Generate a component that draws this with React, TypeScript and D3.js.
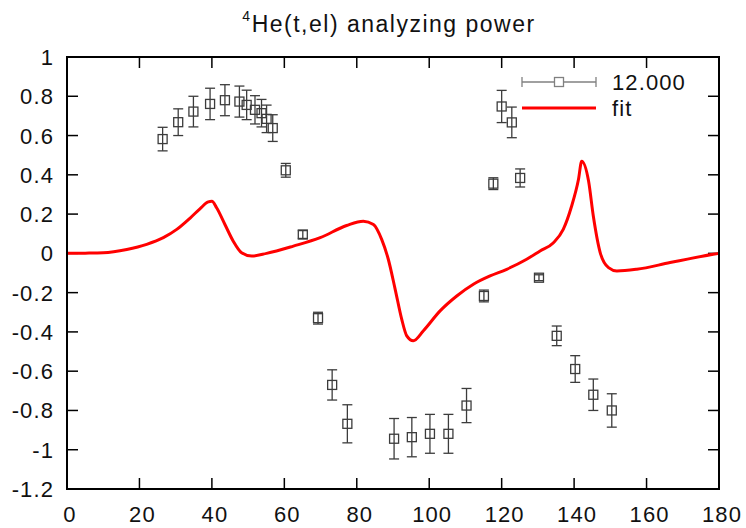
import React from 'react';
import * as d3 from 'd3';

// Measured analyzing power (angle in degrees, value, symmetric error)
const dataAngle = [26.4, 30.7, 34.9, 39.5, 43.6, 47.6, 49.6, 51.9, 53.7, 55.1, 56.8, 60.4, 65.1, 69.3, 73.2, 77.4, 90.3, 95.2, 100.2, 105.3, 110.3, 115.1, 117.7, 120.0, 122.8, 125.1, 130.3, 135.2, 140.3, 145.3, 150.4];
const dataValue = [0.582, 0.668, 0.722, 0.761, 0.78, 0.773, 0.756, 0.731, 0.714, 0.685, 0.638, 0.423, 0.096, -0.33, -0.67, -0.868, -0.944, -0.936, -0.919, -0.919, -0.775, -0.217, 0.355, 0.748, 0.667, 0.384, -0.124, -0.42, -0.589, -0.72, -0.8];
const dataError = [0.06, 0.068, 0.078, 0.08, 0.079, 0.079, 0.075, 0.072, 0.07, 0.07, 0.068, 0.035, 0.02, 0.03, 0.077, 0.097, 0.103, 0.1, 0.099, 0.099, 0.087, 0.03, 0.03, 0.082, 0.078, 0.046, 0.015, 0.05, 0.068, 0.08, 0.085];

// Fitted curve samples
const fitAngle = [0, 5, 10, 16.5, 22, 26.6, 30.3, 34, 36.7, 39, 40, 41.3, 43.6, 45.9, 48.2, 51, 55.1, 62.5, 69.9, 77.2, 81.8, 84.6, 86.9, 88.7, 90.6, 92.4, 93.8, 95.6, 98.4, 103, 107.6, 112.2, 116.8, 121.4, 126.9, 130.6, 134.3, 137, 139.3, 141.2, 142.1, 144, 145.3, 147.2, 149.5, 151.8, 157.3, 166.5, 178.4, 180];
const fitValue = [0, 0.001, 0.003, 0.02, 0.046, 0.08, 0.122, 0.18, 0.227, 0.262, 0.265, 0.232, 0.147, 0.062, 0.003, -0.014, 0.0, 0.037, 0.08, 0.142, 0.164, 0.147, 0.07, -0.03, -0.183, -0.335, -0.42, -0.445, -0.394, -0.293, -0.217, -0.157, -0.115, -0.081, -0.03, 0.012, 0.054, 0.122, 0.24, 0.376, 0.469, 0.367, 0.19, 0.004, -0.073, -0.09, -0.081, -0.047, -0.005, 0];

const xTicks = [0, 20, 40, 60, 80, 100, 120, 140, 160, 180];
const yTicks = [1, 0.8, 0.6, 0.4, 0.2, 0, -0.2, -0.4, -0.6, -0.8, -1, -1.2];

const seriesLabel = '12.000';
const fitLabel = 'fit';

const W = 746;
const H = 528;
const left = 67;
const right = 719;
const top = 57;
const bottom = 489;
const tickLen = 11;
const font = "'Liberation Sans', Arial, Helvetica, sans-serif";
const fs = 22;
const ls = 1.1;
const pointColor = '#3c3c3c';

export default function App() {
  const x = d3.scaleLinear().domain([0, 180]).range([left, right]);
  const y = d3.scaleLinear().domain([-1.2, 1]).range([bottom, top]);

  const fitLine = d3
    .line<number>()
    .x((_, i) => x(fitAngle[i]))
    .y((v) => y(v))
    .curve(d3.curveMonotoneX);

  const box = 4.5;
  const cap = 5;

  const fmt = (v: number) => String(Math.round(v * 10) / 10);

  return (
    <svg
      width={W}
      height={H}
      style={{ position: 'absolute', left: 0, top: 0, background: '#fff' }}
      fontFamily={font}
    >
      <rect x={0} y={0} width={W} height={H} fill="#fff" />

      {/* title */}
      <text x={(left + right) / 2 - 4} y={32} textAnchor="middle" fontSize={23} letterSpacing={1.5} fill="#111">
        <tspan fontSize={14} dy={-11}>4</tspan>
        <tspan dy={11}>He(t,el) analyzing power</tspan>
      </text>

      {/* ticks on all four sides */}
      <g stroke="#000" strokeWidth={1.5}>
        {xTicks.map((t) => (
          <g key={'xt' + t}>
            <line x1={x(t)} x2={x(t)} y1={bottom} y2={bottom - tickLen} />
            <line x1={x(t)} x2={x(t)} y1={top} y2={top + tickLen} />
          </g>
        ))}
        {yTicks.map((t) => (
          <g key={'yt' + t}>
            <line x1={left} x2={left + tickLen} y1={y(t)} y2={y(t)} />
            <line x1={right} x2={right - tickLen} y1={y(t)} y2={y(t)} />
          </g>
        ))}
      </g>

      {/* tick labels */}
      <g fontSize={fs} letterSpacing={ls} fill="#111">
        {xTicks.map((t) => (
          <text key={'xl' + t} x={x(t) + 3} y={522} textAnchor="middle">
            {String(t)}
          </text>
        ))}
        {yTicks.map((t) => (
          <text key={'yl' + t} x={54} y={y(t) + 8} textAnchor="end">
            {fmt(t)}
          </text>
        ))}
      </g>

      {/* data points with error bars */}
      <g stroke={pointColor} strokeWidth={1.3} fill="none">
        {dataAngle.map((a, i) => {
          const cx = x(a);
          const cy = y(dataValue[i]);
          const y1 = y(dataValue[i] + dataError[i]);
          const y2 = y(dataValue[i] - dataError[i]);
          return (
            <g key={'p' + i}>
              <line x1={cx} x2={cx} y1={y1} y2={y2} />
              <line x1={cx - cap} x2={cx + cap} y1={y1} y2={y1} />
              <line x1={cx - cap} x2={cx + cap} y1={y2} y2={y2} />
              <rect x={cx - box} y={cy - box} width={box * 2} height={box * 2} />
            </g>
          );
        })}
      </g>

      {/* fit curve */}
      <path d={fitLine(fitValue) || ''} fill="none" stroke="#ff0000" strokeWidth={3} strokeLinejoin="round" />

      {/* legend */}
      <g stroke="#808080" strokeWidth={1.3} fill="none">
        <line x1={522} x2={596} y1={82} y2={82} />
        <line x1={522} x2={522} y1={77} y2={87} />
        <line x1={596} x2={596} y1={77} y2={87} />
        <rect x={559 - box} y={82 - box} width={box * 2} height={box * 2} fill="#fff" />
      </g>
      <line x1={522} x2={596} y1={108} y2={108} stroke="#ff0000" strokeWidth={3} />
      <g fontSize={fs} letterSpacing={ls} fill="#111">
        <text x={612} y={90}>{seriesLabel}</text>
        <text x={612} y={116}>{fitLabel}</text>
      </g>

      {/* frame */}
      <rect x={left} y={top} width={right - left} height={bottom - top} fill="none" stroke="#000" strokeWidth={2} />
    </svg>
  );
}
